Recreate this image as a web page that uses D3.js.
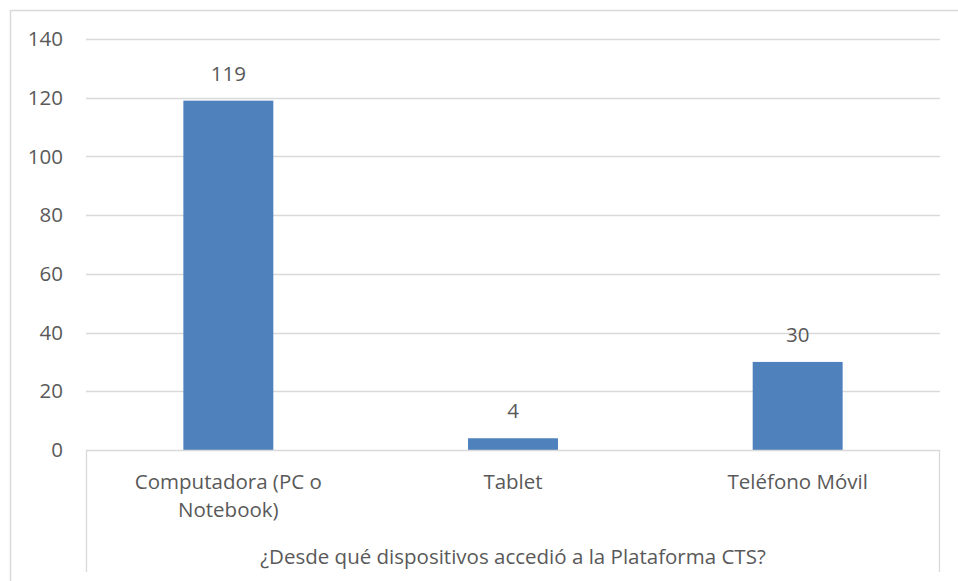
<!DOCTYPE html>
<html>
<head>
<meta charset="utf-8">
<script src="https://cdn.jsdelivr.net/npm/d3@7"></script>
<style>
  body { margin: 0; background: #fff; }
  text { font-family: "Open Sans", sans-serif; fill: #595959; }
</style>
</head>
<body>
<svg id="chart" width="958" height="581"></svg>
<script>
// Data
const categories = ['Computadora (PC o Notebook)', 'Tablet', 'Teléfono Móvil'];
const counts = [119, 4, 30];
const yTicks = [0, 20, 40, 60, 80, 100, 120, 140];
const axisTitle = '¿Desde qué dispositivos accedió a la Plataforma CTS?';

(function() {
  const svg = d3.select('#chart');
  const margin = {top: 39, left: 86, right: 18, bottom: 131};
  const width = 958 - margin.left - margin.right;
  const height = 581 - margin.top - margin.bottom;
  const fontSize = 20.5;

  // chart border (cut off at right/bottom like the reference)
  svg.append('rect')
    .attr('x', 10.5).attr('y', 10.5)
    .attr('width', 1000).attr('height', 1000)
    .attr('fill', 'none').attr('stroke', '#d9d9d9').attr('stroke-width', 1.5);

  const g = svg.append('g').attr('transform', `translate(${margin.left},${margin.top})`);

  const x = d3.scaleBand().domain(categories).range([0, width]).paddingInner(0).paddingOuter(0);
  const y = d3.scaleLinear().domain([0, 140]).range([height, 0]);
  const barW = x.bandwidth() * 0.316;

  // gridlines
  g.append('g').selectAll('line')
    .data(yTicks.filter(d => d > 0))
    .enter().append('line')
    .attr('x1', 0).attr('x2', width)
    .attr('y1', d => Math.round(y(d)) + 0.5).attr('y2', d => Math.round(y(d)) + 0.5)
    .attr('stroke', '#d9d9d9').attr('stroke-width', 1.3);

  // y tick labels
  g.append('g').selectAll('text')
    .data(yTicks)
    .enter().append('text')
    .attr('x', -23)
    .attr('y', d => y(d))
    .attr('dy', '0.35em')
    .attr('text-anchor', 'end')
    .attr('font-size', fontSize)
    .text(d => d);

  // bars
  g.append('g').selectAll('rect')
    .data(categories)
    .enter().append('rect')
    .attr('x', d => x(d) + x.bandwidth() / 2 - barW / 2)
    .attr('y', (d, i) => y(counts[i]))
    .attr('width', barW)
    .attr('height', (d, i) => height - y(counts[i]))
    .attr('fill', '#4f81bd');

  // data labels
  g.append('g').selectAll('text')
    .data(categories)
    .enter().append('text')
    .attr('x', d => x(d) + x.bandwidth() / 2)
    .attr('y', (d, i) => y(counts[i]) - 20)
    .attr('text-anchor', 'middle')
    .attr('font-size', fontSize)
    .text((d, i) => counts[i]);

  // category axis box
  const boxBottom = height + 122;
  g.append('path')
    .attr('d', `M0.5,${boxBottom}V${Math.round(height) + 0.5}H${width - 0.5}V${boxBottom}`)
    .attr('fill', 'none').attr('stroke', '#d9d9d9').attr('stroke-width', 1.3);

  // category labels with wrap
  const labels = g.append('g').selectAll('text')
    .data(categories)
    .enter().append('text')
    .attr('x', d => x(d) + x.bandwidth() / 2)
    .attr('y', height + 39)
    .attr('text-anchor', 'middle')
    .attr('font-size', fontSize);
  labels.each(function(d) {
    const t = d3.select(this);
    const words = d.split(' ');
    let line = [];
    let tspan = t.append('tspan').attr('x', t.attr('x')).attr('dy', 0);
    words.forEach(w => {
      line.push(w);
      tspan.text(line.join(' '));
      if (tspan.node().getComputedTextLength() > 240 && line.length > 1) {
        line.pop();
        tspan.text(line.join(' '));
        line = [w];
        tspan = t.append('tspan').attr('x', t.attr('x')).attr('dy', 28).text(w);
      }
    });
  });

  // axis title
  g.append('text')
    .attr('x', width / 2)
    .attr('y', height + 114)
    .attr('text-anchor', 'middle')
    .attr('font-size', fontSize)
    .text(axisTitle);
})();
</script>
</body>
</html>
